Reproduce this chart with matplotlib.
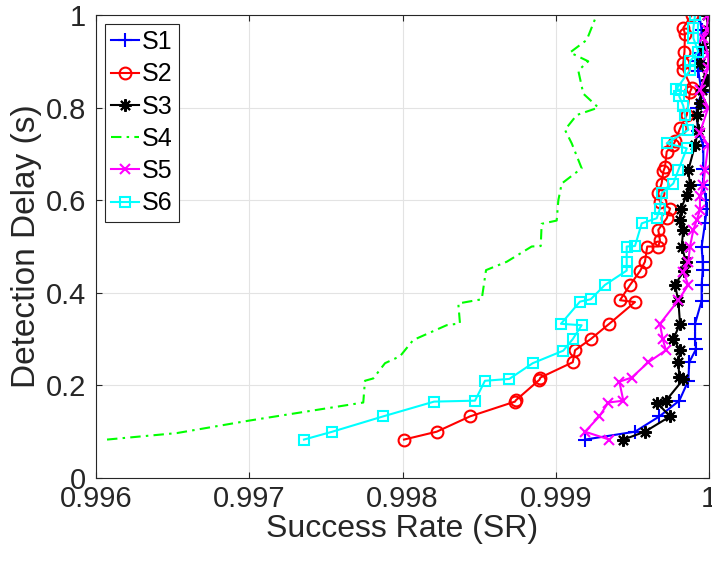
import matplotlib
matplotlib.use("Agg")
import matplotlib.pyplot as plt

plt.rcParams['font.family'] = ['Liberation Sans', 'DejaVu Sans']

# Success rate (x) and detection delay in seconds (y) for each scheme
s1_sr = [0.999191, 0.999517, 0.999676, 0.999806, 0.999865, 0.999871, 0.999915, 0.999909,
         0.999909, 0.999952, 0.999952, 0.999959, 0.999959, 0.999952, 0.999974, 0.999985,
         0.999980, 0.999963, 0.999963, 0.999963, 0.999930, 0.999920, 0.999920, 0.999952,
         0.999930, 0.999930, 0.999935, 0.999952, 0.999937]
s1_dd = [0.083, 0.100, 0.133, 0.167, 0.210, 0.250, 0.278, 0.300,
         0.333, 0.383, 0.417, 0.450, 0.467, 0.500, 0.550, 0.580,
         0.600, 0.633, 0.667, 0.717, 0.750, 0.783, 0.800, 0.833,
         0.880, 0.900, 0.917, 0.967, 1.000]

s2_sr = [0.998010, 0.998223, 0.998440, 0.998734, 0.998740, 0.998893, 0.998900, 0.999111,
         0.999126, 0.999228, 0.999349, 0.999517, 0.999419, 0.999485, 0.999550, 0.999582,
         0.999597, 0.999669, 0.999680, 0.999669, 0.999724, 0.999746, 0.999680, 0.999669,
         0.999691, 0.999702, 0.999713, 0.999724, 0.999767, 0.999778, 0.999811, 0.999855,
         0.999876, 0.999887, 0.999832, 0.999832, 0.999840, 0.999843, 0.999832, 0.999887]
s2_dd = [0.083, 0.100, 0.133, 0.165, 0.168, 0.212, 0.217, 0.250,
         0.276, 0.300, 0.333, 0.380, 0.384, 0.417, 0.447, 0.467,
         0.500, 0.500, 0.513, 0.536, 0.561, 0.582, 0.597, 0.615,
         0.636, 0.662, 0.672, 0.705, 0.719, 0.727, 0.755, 0.784,
         0.834, 0.842, 0.881, 0.896, 0.921, 0.960, 0.972, 1.000]

s3_sr = [0.999441, 0.999582, 0.999746, 0.999659, 0.999719, 0.999832, 0.999806, 0.999800,
         0.999811, 0.999767, 0.999811, 0.999800, 0.999778, 0.999837, 0.999850, 0.999822,
         0.999832, 0.999811, 0.999817, 0.999855, 0.999876, 0.999865, 0.999909, 0.999930,
         0.999920, 0.999941, 0.999952, 0.999985, 0.999941, 0.999960, 0.999995, 0.999985]
s3_dd = [0.083, 0.100, 0.133, 0.163, 0.167, 0.213, 0.219, 0.250,
         0.276, 0.300, 0.333, 0.383, 0.417, 0.448, 0.467, 0.500,
         0.536, 0.557, 0.582, 0.611, 0.633, 0.665, 0.719, 0.752,
         0.784, 0.809, 0.837, 0.860, 0.896, 0.930, 0.968, 1.000]

s4_sr = [0.996072, 0.996527, 0.997000, 0.997744, 0.997755, 0.997809, 0.997886, 0.997984,
         0.998070, 0.998288, 0.998375, 0.998364, 0.998517, 0.998545, 0.998680, 0.998843,
         0.998902, 0.998908, 0.999006, 0.999017, 0.999039, 0.999169, 0.999104, 0.999060,
         0.999137, 0.999278, 0.999180, 0.999147, 0.999212, 0.999093, 0.999202, 0.999267]
s4_dd = [0.083, 0.097, 0.124, 0.163, 0.210, 0.215, 0.248, 0.263,
         0.298, 0.330, 0.334, 0.377, 0.386, 0.449, 0.467, 0.500,
         0.501, 0.549, 0.556, 0.600, 0.636, 0.669, 0.723, 0.752,
         0.784, 0.800, 0.830, 0.880, 0.900, 0.919, 0.946, 1.000]

s5_sr = [0.999349, 0.999191, 0.999284, 0.999343, 0.999441, 0.999415, 0.999496, 0.999604,
         0.999719, 0.999698, 0.999680, 0.999800, 0.999865, 0.999832, 0.999865, 0.999876,
         0.999898, 0.999920, 0.999941, 0.999941, 0.999963, 0.999974, 0.999995, 0.999941,
         0.999995, 0.999941, 0.999995, 0.999995, 0.999963, 0.999985, 0.999995]
s5_dd = [0.083, 0.100, 0.133, 0.163, 0.167, 0.208, 0.217, 0.250,
         0.276, 0.300, 0.333, 0.384, 0.417, 0.446, 0.467, 0.500,
         0.536, 0.557, 0.579, 0.608, 0.633, 0.665, 0.719, 0.746,
         0.800, 0.838, 0.885, 0.914, 0.950, 0.968, 1.000]

s6_sr = [0.997357, 0.997542, 0.997873, 0.998206, 0.998473, 0.998538, 0.998697, 0.998850,
         0.999049, 0.999111, 0.999169, 0.999034, 0.999158, 0.999228, 0.999321, 0.999463,
         0.999463, 0.999463, 0.999517, 0.999561, 0.999659, 0.999680, 0.999691, 0.999767,
         0.999800, 0.999855, 0.999724, 0.999865, 0.999843, 0.999832, 0.999806, 0.999817,
         0.999787, 0.999876, 0.999876, 0.999930, 0.999898, 0.999898, 0.999909]
s6_dd = [0.083, 0.100, 0.133, 0.165, 0.167, 0.210, 0.214, 0.248,
         0.275, 0.300, 0.330, 0.333, 0.381, 0.386, 0.417, 0.448,
         0.467, 0.500, 0.501, 0.550, 0.561, 0.582, 0.615, 0.636,
         0.665, 0.712, 0.723, 0.752, 0.784, 0.804, 0.824, 0.838,
         0.840, 0.881, 0.900, 0.921, 0.950, 0.972, 1.000]

labels = ['S1', 'S2', 'S3', 'S4', 'S5', 'S6']
x_ticks = [0.996, 0.997, 0.998, 0.999, 1.0]
x_tick_labels = ['0.996', '0.997', '0.998', '0.999', '1']
y_ticks = [0, 0.2, 0.4, 0.6, 0.8, 1.0]
y_tick_labels = ['0', '0.2', '0.4', '0.6', '0.8', '1']

fig = plt.figure(figsize=(7.12, 5.69), dpi=100)
ax = fig.add_axes([96 / 712, 1 - 478 / 569, 613 / 712, 463 / 569])

lw = 1.5
asterisk = (8, 2, 0)
ax.plot(s1_sr, s1_dd, color=(0, 0, 1), lw=lw, marker='+', ms=10, mew=1.5, label=labels[0])
ax.plot(s2_sr, s2_dd, color=(1, 0, 0), lw=lw, marker='o', ms=8.5, mfc='none', mew=1.5, label=labels[1])
ax.plot(s3_sr, s3_dd, color='k', lw=lw, marker=asterisk, ms=9, mew=1.5, label=labels[2])
ax.plot(s4_sr, s4_dd, color=(0, 1, 0), lw=lw, ls=(0, (5, 2.5, 1.2, 2.5)), label=labels[3])
ax.plot(s5_sr, s5_dd, color=(1, 0, 1), lw=lw, marker='x', ms=7.5, mew=1.5, label=labels[4])
ax.plot(s6_sr, s6_dd, color=(0, 1, 1), lw=lw, marker='s', ms=7, mfc='none', mew=1.5, label=labels[5])

ax.set_xlim(0.996, 1.0)
ax.set_ylim(0, 1)
ax.set_xticks(x_ticks)
ax.set_xticklabels(x_tick_labels)
ax.set_yticks(y_ticks)
ax.set_yticklabels(y_tick_labels)
ax.grid(True, color='#e3e3e3', lw=0.8)
ax.set_axisbelow(True)
ax.tick_params(direction='in', length=4, width=0.8, colors='#262626',
               labelsize=21, top=True, right=True)
ax.tick_params(axis='x', pad=5)
ax.tick_params(axis='y', pad=7)
for sp in ax.spines.values():
    sp.set_color('#262626')
    sp.set_linewidth(0.8)

ax.set_xlabel('Success Rate (SR)', fontsize=23, color='#262626', labelpad=1)
ax.set_ylabel('Detection Delay (s)', fontsize=24, color='#262626', labelpad=3)

leg = ax.legend(loc='upper left', fontsize=18, frameon=True, fancybox=False,
                edgecolor='#262626', framealpha=1, handlelength=1.1,
                handletextpad=0.15, borderpad=0.25, labelspacing=0.33,
                borderaxespad=0.35)
leg.get_frame().set_linewidth(0.8)

fig.savefig('out.png', dpi=100)
